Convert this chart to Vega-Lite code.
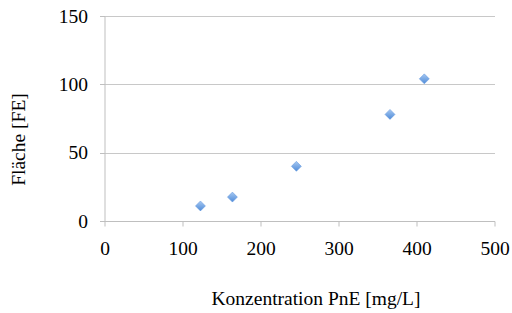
{
  "$schema": "https://vega.github.io/schema/vega-lite/v6.json",
  "autosize": {"type": "none"},
  "width": 390,
  "height": 205,
  "padding": {"left": 104.5, "top": 16, "right": 17.5, "bottom": 92},
  "background": "white",
  "config": {
    "view": {"stroke": null},
    "font": "Liberation Serif",
    "axis": {
      "labelFont": "Liberation Serif",
      "titleFont": "Liberation Serif",
      "labelFontSize": 19.5,
      "titleFontSize": 19.5,
      "labelColor": "#000000",
      "titleColor": "#000000",
      "titleFontWeight": "normal",
      "domainColor": "#bfbfbf",
      "tickColor": "#bfbfbf",
      "gridColor": "#c8c8c8",
      "tickSize": 5
    }
  },
  "data": {
    "values": [
      {"konz": 123, "flaeche": 11},
      {"konz": 164, "flaeche": 17.5},
      {"konz": 246, "flaeche": 40},
      {"konz": 366, "flaeche": 78},
      {"konz": 410, "flaeche": 104}
    ]
  },
  "mark": {
    "type": "point",
    "shape": "diamond",
    "size": 100,
    "filled": true,
    "opacity": 1,
    "fill": {
      "gradient": "linear",
      "x1": 0, "y1": 0, "x2": 0, "y2": 1,
      "stops": [
        {"offset": 0, "color": "#a6c8f2"},
        {"offset": 1, "color": "#4f8bd8"}
      ]
    },
    "stroke": "#5f95dc",
    "strokeWidth": 0.5
  },
  "encoding": {
    "x": {
      "field": "konz",
      "type": "quantitative",
      "scale": {"domain": [0, 500], "nice": false, "zero": true},
      "axis": {
        "values": [0, 100, 200, 300, 400, 500],
        "grid": false,
        "title": "Konzentration PnE [mg/L]",
        "labelPadding": 13,
        "labelFlush": false,
        "titleX": 211,
        "titleY": 83,
        "titleBaseline": "alphabetic",
        "titleAnchor": "middle"
      }
    },
    "y": {
      "field": "flaeche",
      "type": "quantitative",
      "scale": {"domain": [0, 150], "nice": false},
      "axis": {
        "values": [0, 50, 100, 150],
        "grid": true,
        "title": "Fläche [FE]",
        "labelPadding": 12,
        "titleX": -80,
        "titleY": 123,
        "titleAngle": -90,
        "titleBaseline": "alphabetic",
        "titleAnchor": "middle",
        "labelFlush": false
      }
    }
  }
}
